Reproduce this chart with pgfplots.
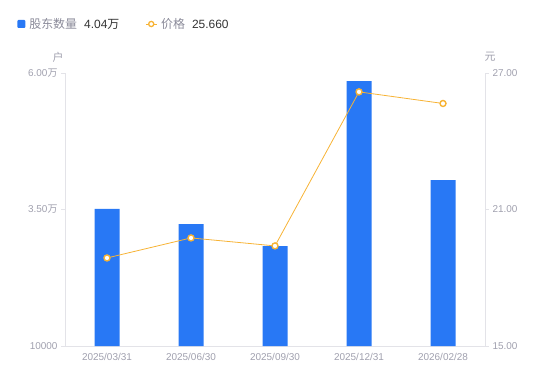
\documentclass[border=0pt]{standalone}
\usepackage{pgfplots}
\pgfplotsset{compat=1.18}
\usepackage{fontspec}
\setmainfont{Liberation Sans}
\newfontfamily\cjk{Noto Sans CJK SC}
\definecolor{barblue}{HTML}{2878F5}
\definecolor{lineorange}{HTML}{F7B335}
\definecolor{axgray}{HTML}{E3E3E8}
\definecolor{tickgray}{HTML}{A0A0AE}
\definecolor{leggray}{HTML}{8A8A99}
\definecolor{txtdark}{HTML}{333333}
\begin{document}
\begin{tikzpicture}[x=1bp,y=1bp]
\useasboundingbox (0,0) rectangle (550,381);
\begin{axis}[at={(65bp,35bp)}, anchor=south west, scale only axis,
  width=420bp, height=273bp,
  xmin=-0.5, xmax=4.5, ymin=10000, ymax=60000,
  axis x line*=bottom, axis y line*=left,
  axis line style={draw=axgray, -},
  xtick={0,1,2,3,4},
  xticklabels={2025/03/31,2025/06/30,2025/09/30,2025/12/31,2026/02/28},
  ytick={10000,35000,60000},
  yticklabels={10000,3.50{\cjk 万},6.00{\cjk 万}},
  scaled y ticks=false,
  tick label style={font=\fontsize{10}{11}\selectfont, text=tickgray},
  /pgf/number format/assume math mode=true,
  x tick style={draw=none}, y tick style={draw=axgray},
  tick align=outside, major tick length=4bp,
  legend style={at={(-0.114,1.1795)}, anchor=west, draw=none, fill=none,
    inner sep=0pt, font=\fontsize{12}{13}\selectfont, text=txtdark,
    legend columns=-1,
    /tikz/every odd column/.append style={column sep=2bp},
    /tikz/every even column/.append style={column sep=24bp}},
  legend cell align=left,
]
\addplot[ybar, bar width=25bp, fill=barblue, draw=none,
  legend image code/.code={\fill[barblue, rounded corners=1bp] (0bp,-4bp) rectangle (8bp,4bp);}]
  coordinates {(0,35100) (1,32300) (2,28300) (3,58500) (4,40400)};
\addlegendentry{\textcolor{leggray}{\cjk 股东数量}\hspace{7bp}4.04{\cjk 万}}
\addlegendimage{legend image code/.code={\draw[lineorange, line width=0.8bp] (0bp,0bp)--(11bp,0bp); \draw[lineorange, line width=1.3bp, fill=white] (5.5bp,0bp) circle (2.6bp);}}
\addlegendentry{\textcolor{leggray}{\cjk 价格}\hspace{7bp}25.660}
\end{axis}
\begin{axis}[at={(65bp,35bp)}, anchor=south west, scale only axis,
  width=420bp, height=273bp,
  xmin=-0.5, xmax=4.5, ymin=15, ymax=27,
  axis x line=none, axis y line*=right,
  axis line style={draw=axgray, -},
  ytick={15,21,27},
  yticklabels={15.00,21.00,27.00},
  tick label style={font=\fontsize{10}{11}\selectfont, text=tickgray},
  /pgf/number format/assume math mode=true,
  y tick style={draw=axgray},
  tick align=outside, major tick length=4bp,
]
\addplot[lineorange, line width=0.8bp, mark=*, mark size=3bp,
  mark options={fill=white, draw=lineorange, line width=1.4bp}]
  coordinates {(0,18.87) (1,19.75) (2,19.40) (3,26.17) (4,25.66)};
\end{axis}
\node[text=tickgray, font=\fontsize{11}{12}\selectfont\cjk] at (58,324) {户};
\node[text=tickgray, font=\fontsize{11}{12}\selectfont\cjk] at (490,324) {元};
\end{tikzpicture}
\end{document}
